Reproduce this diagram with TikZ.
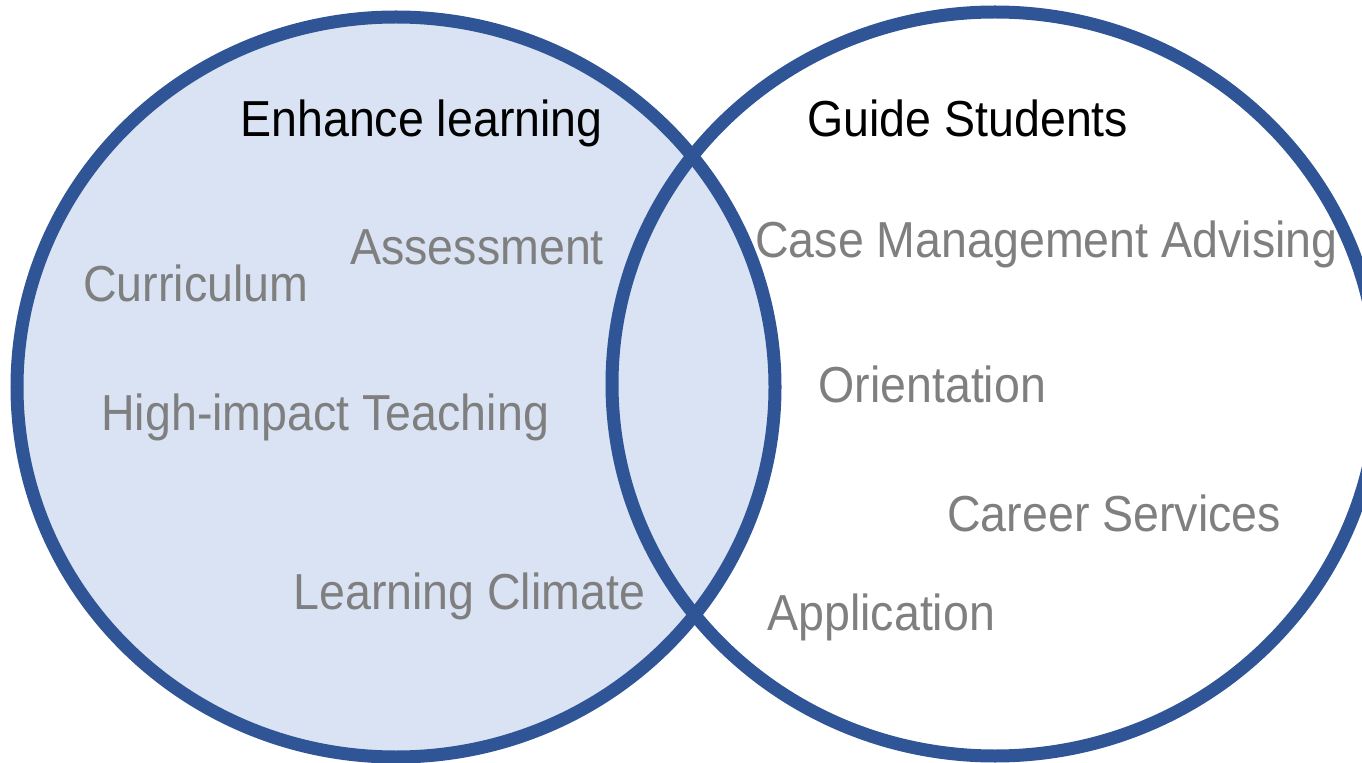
\documentclass[tikz,border=0pt]{standalone}
\usepackage{fontspec}
\setmainfont{Liberation Sans}[FakeStretch=0.92]
\definecolor{setfill}{HTML}{DAE3F3}
\definecolor{setline}{HTML}{2F5597}
\definecolor{itemgray}{HTML}{7F7F7F}
\begin{document}
\begin{tikzpicture}[x=0.02cm,y=-0.02cm, line join=round, line cap=round,
	title/.style={anchor=base west,inner sep=0pt,font=\fontsize{28.8}{34}\selectfont,text=black},
	item/.style={title,text=itemgray},
	setring/.style={draw=setline,line width=7.4pt}]
	\useasboundingbox (0,0) rectangle (1362,763);
	\def\ax{396} \def\ay{387} \def\bx{995} \def\by{384} % centres
	% left set filled, both rings on top
	\fill[setfill] (\ax,\ay) ellipse [x radius=379, y radius=370];
	\draw[setring] (\ax,\ay) ellipse [x radius=379, y radius=370];
	\draw[setring] (\bx,\by) ellipse [x radius=383, y radius=372];
	\node[title] (enh) at (240,137) {Enhance learning};
	\node[title] (gui) at (807,137) {Guide Students};
	\node[item] (ass) at (350,265) {Assessment};
	\node[item] (cur) at (83,302) {Curriculum};
	\node[item] (hit) at (101,430) {High-impact Teaching};
	\node[item] (lcl) at (293,609) {Learning Climate};
	\node[item] (cma) at (755,258) {Case Management Advising};
	\node[item] (ori) at (818,402) {Orientation};
	\node[item] (car) at (947,531) {Career Services};
	\node[item] (app) at (767,630) {Application};
\end{tikzpicture}
\end{document}
